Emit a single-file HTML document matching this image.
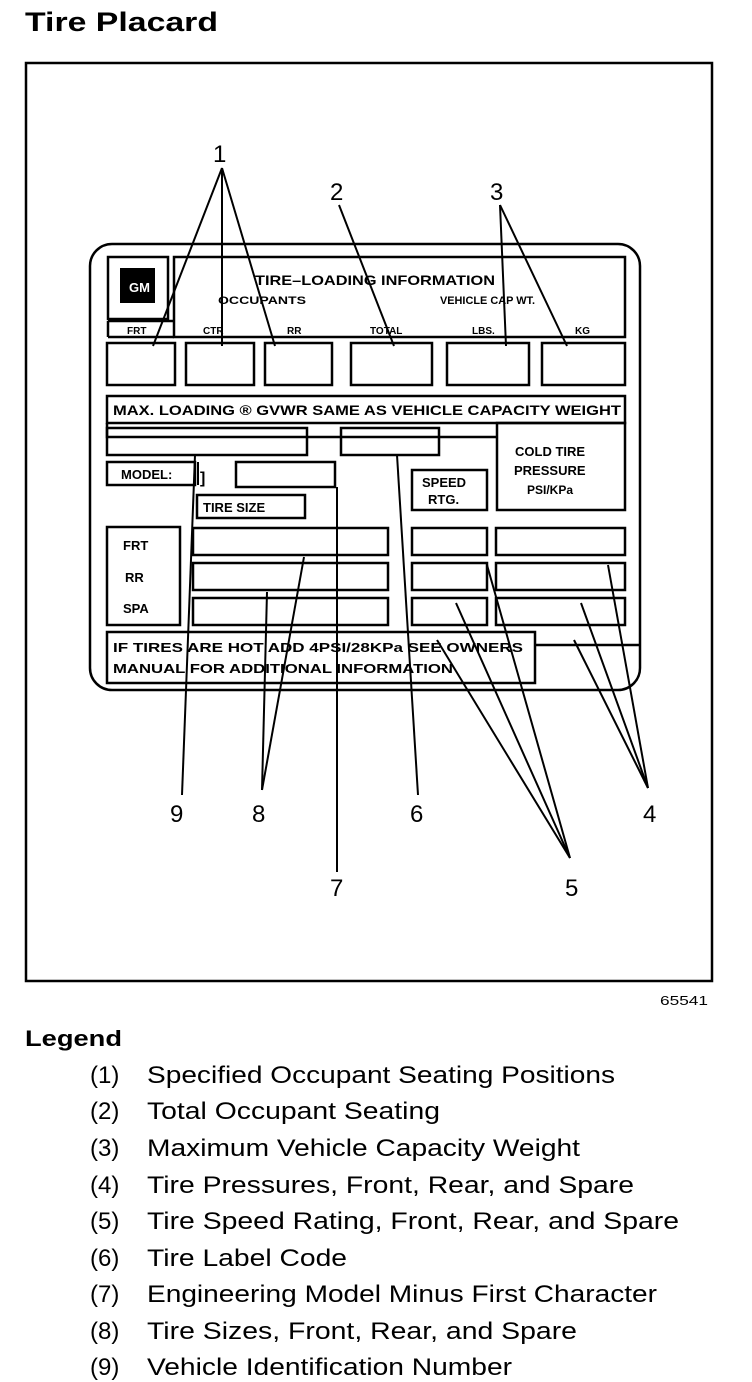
<!DOCTYPE html>
<html><head><meta charset="utf-8"><style>
html,body{margin:0;padding:0;background:#fff}
svg{display:block}
text{font-family:"Liberation Sans",Arial,sans-serif;fill:#000}
</style></head><body>
<svg width="752" height="1382" viewBox="0 0 752 1382" xmlns="http://www.w3.org/2000/svg">
<text x="25" y="31" font-size="27" font-weight="bold" textLength="193" lengthAdjust="spacingAndGlyphs">Tire Placard</text>
<rect x="26" y="63" width="686" height="918" fill="none" stroke="#000" stroke-width="2.5"/>
<text x="660" y="1005" font-size="13" textLength="48" lengthAdjust="spacingAndGlyphs">65541</text>

<g fill="none" stroke="#000" stroke-width="2.5">
<rect x="90" y="244" width="550" height="446" rx="22"/>
<rect x="108" y="257" width="60" height="62"/>
<rect x="174" y="257" width="451" height="80"/>
<line x1="108" y1="321" x2="174" y2="321"/>
<line x1="108" y1="321" x2="108" y2="337"/>
<line x1="108" y1="337" x2="174" y2="337"/>
<rect x="107" y="343" width="68" height="42"/>
<rect x="186" y="343" width="68" height="42"/>
<rect x="265" y="343" width="67" height="42"/>
<rect x="351" y="343" width="81" height="42"/>
<rect x="447" y="343" width="82" height="42"/>
<rect x="542" y="343" width="83" height="42"/>
<rect x="107" y="396" width="518" height="27"/>
<polyline points="107,423 107,437 497,437"/>
<rect x="497" y="423" width="128" height="87"/>
<rect x="107" y="428" width="200" height="27"/>
<rect x="341" y="428" width="98" height="27"/>
<rect x="107" y="462" width="88" height="23"/>
<rect x="236" y="462" width="99" height="25"/>
<rect x="197" y="495" width="108" height="23"/>
<rect x="412" y="470" width="75" height="40"/>
<rect x="107" y="527" width="73" height="98"/>
<rect x="193" y="528" width="195" height="27"/>
<rect x="193" y="563" width="195" height="27"/>
<rect x="193" y="598" width="195" height="27"/>
<rect x="412" y="528" width="75" height="27"/>
<rect x="412" y="563" width="75" height="27"/>
<rect x="412" y="598" width="75" height="27"/>
<rect x="496" y="528" width="129" height="27"/>
<rect x="496" y="563" width="129" height="27"/>
<rect x="496" y="598" width="129" height="27"/>
<rect x="107" y="632" width="428" height="51"/>
<line x1="535" y1="645" x2="640" y2="645"/>
</g>
<rect x="120" y="268" width="35" height="35" fill="#000"/>
<text x="129" y="292" font-size="13" font-weight="bold" style="fill:#fff">GM</text>
<line x1="198" y1="462" x2="198" y2="485" stroke="#000" stroke-width="2"/>
<text x="200" y="483" font-size="16" font-weight="bold">]</text>

<g font-weight="bold">
<text x="255" y="285" font-size="14" textLength="240" lengthAdjust="spacingAndGlyphs">TIRE–LOADING INFORMATION</text>
<text x="218" y="304" font-size="11" textLength="88" lengthAdjust="spacingAndGlyphs">OCCUPANTS</text>
<text x="440" y="304" font-size="11" textLength="95" lengthAdjust="spacingAndGlyphs">VEHICLE CAP WT.</text>
<text x="127" y="334" font-size="10">FRT</text>
<text x="203" y="334" font-size="10">CTR</text>
<text x="287" y="334" font-size="10">RR</text>
<text x="370" y="334" font-size="10">TOTAL</text>
<text x="472" y="334" font-size="10">LBS.</text>
<text x="575" y="334" font-size="10">KG</text>
<text x="113" y="415" font-size="14" textLength="508" lengthAdjust="spacingAndGlyphs">MAX. LOADING ® GVWR SAME AS VEHICLE CAPACITY WEIGHT</text>
<text x="121" y="479" font-size="13">MODEL:</text>
<text x="203" y="512" font-size="13">TIRE SIZE</text>
<text x="422" y="487" font-size="13">SPEED</text>
<text x="428" y="504" font-size="13">RTG.</text>
<text x="515" y="456" font-size="13">COLD TIRE</text>
<text x="514" y="475" font-size="13">PRESSURE</text>
<text x="527" y="494" font-size="12">PSI/KPa</text>
<text x="123" y="550" font-size="13">FRT</text>
<text x="125" y="582" font-size="13">RR</text>
<text x="123" y="613" font-size="13">SPA</text>
<text x="113" y="652" font-size="13" textLength="410" lengthAdjust="spacingAndGlyphs">IF TIRES ARE HOT ADD 4PSI/28KPa SEE OWNERS</text>
<text x="113" y="673" font-size="13" textLength="340" lengthAdjust="spacingAndGlyphs">MANUAL FOR ADDITIONAL INFORMATION</text>
</g>

<g stroke="#000" stroke-width="2" fill="none">
<line x1="222" y1="168" x2="153" y2="346"/>
<line x1="222" y1="168" x2="222" y2="346"/>
<line x1="222" y1="168" x2="275" y2="346"/>
<line x1="339" y1="205" x2="394" y2="346"/>
<line x1="500" y1="205" x2="506" y2="346"/>
<line x1="500" y1="205" x2="567" y2="346"/>
<line x1="182" y1="795" x2="195" y2="455"/>
<line x1="262" y1="790" x2="267" y2="592"/>
<line x1="262" y1="790" x2="304" y2="557"/>
<line x1="337" y1="872" x2="337" y2="487"/>
<line x1="418" y1="795" x2="397" y2="455"/>
<line x1="570" y1="858" x2="437" y2="640"/>
<line x1="570" y1="858" x2="456" y2="603"/>
<line x1="570" y1="858" x2="487" y2="565"/>
<line x1="648" y1="788" x2="574" y2="640"/>
<line x1="648" y1="788" x2="581" y2="603"/>
<line x1="648" y1="788" x2="608" y2="565"/>
</g>
<g font-size="24">
<text x="213" y="162">1</text>
<text x="330" y="200">2</text>
<text x="490" y="200">3</text>
<text x="170" y="822">9</text>
<text x="252" y="822">8</text>
<text x="410" y="822">6</text>
<text x="643" y="822">4</text>
<text x="330" y="896">7</text>
<text x="565" y="896">5</text>
</g>

<text x="25" y="1046" font-size="22" font-weight="bold" textLength="97" lengthAdjust="spacingAndGlyphs">Legend</text>
<g font-size="24">
<text x="90" y="1083">(1)</text><text x="147" y="1083" textLength="468" lengthAdjust="spacingAndGlyphs">Specified Occupant Seating Positions</text>
<text x="90" y="1119">(2)</text><text x="147" y="1119" textLength="293" lengthAdjust="spacingAndGlyphs">Total Occupant Seating</text>
<text x="90" y="1156">(3)</text><text x="147" y="1156" textLength="433" lengthAdjust="spacingAndGlyphs">Maximum Vehicle Capacity Weight</text>
<text x="90" y="1193">(4)</text><text x="147" y="1193" textLength="487" lengthAdjust="spacingAndGlyphs">Tire Pressures, Front, Rear, and Spare</text>
<text x="90" y="1229">(5)</text><text x="147" y="1229" textLength="532" lengthAdjust="spacingAndGlyphs">Tire Speed Rating, Front, Rear, and Spare</text>
<text x="90" y="1266">(6)</text><text x="147" y="1266" textLength="200" lengthAdjust="spacingAndGlyphs">Tire Label Code</text>
<text x="90" y="1302">(7)</text><text x="147" y="1302" textLength="510" lengthAdjust="spacingAndGlyphs">Engineering Model Minus First Character</text>
<text x="90" y="1339">(8)</text><text x="147" y="1339" textLength="430" lengthAdjust="spacingAndGlyphs">Tire Sizes, Front, Rear, and Spare</text>
<text x="90" y="1375">(9)</text><text x="147" y="1375" textLength="365" lengthAdjust="spacingAndGlyphs">Vehicle Identification Number</text>
</g>
</svg>
</body></html>
